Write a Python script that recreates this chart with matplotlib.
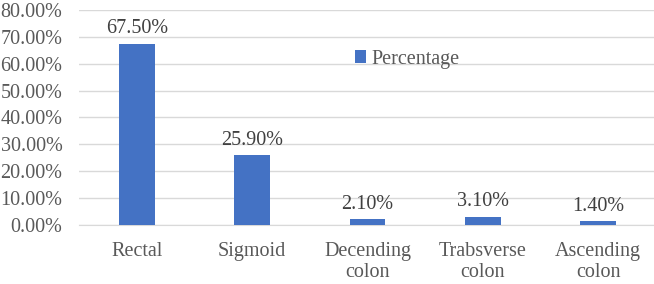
import numpy as np
import matplotlib.pyplot as plt
from matplotlib.ticker import FuncFormatter

categories = ["Rectal", "Sigmoid", "Decending\ncolon", "Trabsverse\ncolon", "Ascending\ncolon"]
percentages = [67.5, 25.9, 2.1, 3.1, 1.4]
series_name = "Percentage"

plt.rcParams["font.family"] = ["Liberation Serif", "DejaVu Serif"]
text_color = "#595959"
bar_color = "#4472C4"
grid_color = "#d9d9d9"

fig = plt.figure(figsize=(6.54, 2.84), dpi=100)
ax = fig.add_axes([0.121, 0.208, 0.882, 0.757])

x = np.arange(len(categories))
ax.bar(x, percentages, width=0.31, color=bar_color, label=series_name, zorder=3)

for xi, v in zip(x, percentages):
    ax.text(xi, v + 2.0, f"{v:.2f}%", ha="center", va="bottom", fontsize=14.5, color="#404040")

ax.set_xlim(-0.5, len(categories) - 0.5)
ax.set_ylim(0, 80)
ax.set_yticks(np.arange(0, 81, 10))
ax.yaxis.set_major_formatter(FuncFormatter(lambda v, p: f"{v:.2f}%"))
ax.set_xticks(x)
ax.set_xticklabels(categories, linespacing=1.15)

ax.grid(axis="y", color=grid_color, linewidth=1, zorder=0)
for s in ["left", "right", "top"]:
    ax.spines[s].set_visible(False)
ax.spines["bottom"].set_color(grid_color)
ax.tick_params(axis="both", length=0, labelsize=14.5, colors=text_color)
ax.tick_params(axis="x", pad=12)
ax.tick_params(axis="y", pad=12)

ax.legend(loc="upper left", bbox_to_anchor=(0.447, 0.90), frameon=False, fontsize=14.5,
          handlelength=0.55, handleheight=0.55, handletextpad=0.25, labelcolor=text_color)

fig.savefig("out.png", dpi=100)
